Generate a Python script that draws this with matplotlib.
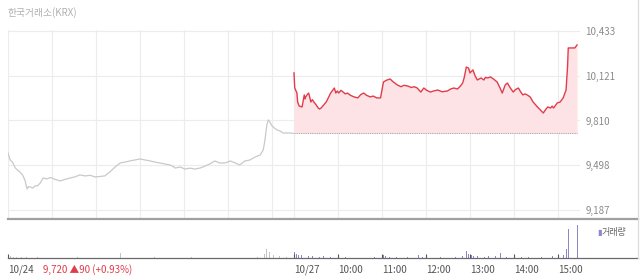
import matplotlib
matplotlib.use("Agg")
import matplotlib.pyplot as plt
from matplotlib.lines import Line2D

plt.rcParams['font.family'] = ['Noto Sans CJK KR', 'DejaVu Sans']

# ---- data -----------------------------------------------------------
# minutes from 10/24 09:00 (10/27 09:00 = 390 on the compressed axis)
prev_t = [0, 3, 6, 10, 13, 16, 20, 23, 26, 28, 30, 34, 37, 40, 44, 48, 53, 57, 60, 64,
          67, 71, 78, 85, 91, 98, 105, 112, 119, 125, 132, 139, 146, 153, 160, 166,
          173, 180, 187, 194, 200, 207, 214, 221, 225, 228, 235, 241, 248, 255, 262,
          269, 275, 282, 289, 296, 303, 310, 316, 323, 330, 337, 344, 348, 350, 353,
          355, 357, 360, 363, 367, 371, 375, 380, 385, 389]
prev_v = [9584, 9535, 9520, 9479, 9465, 9452, 9430, 9396, 9333, 9350, 9347, 9340, 9356,
          9354, 9375, 9410, 9403, 9412, 9410, 9400, 9396, 9389, 9400, 9410, 9417, 9431,
          9424, 9428, 9417, 9420, 9424, 9452, 9486, 9514, 9521, 9528, 9535, 9542, 9535,
          9528, 9521, 9514, 9507, 9500, 9490, 9479, 9486, 9472, 9478, 9472, 9479, 9493,
          9507, 9528, 9514, 9514, 9528, 9514, 9500, 9528, 9535, 9556, 9570, 9605, 9660,
          9779, 9814, 9800, 9772, 9758, 9744, 9737, 9723, 9723, 9723, 9720]

today_t = [390, 391, 394, 395, 397, 401, 403, 404, 405, 406, 408, 410, 412, 413, 415,
           417, 420, 423, 425, 427, 430, 434, 437, 440, 445, 447, 449, 451, 454, 457,
           460, 463, 467, 472, 477, 481, 485, 489, 494, 498, 503, 508, 512, 516, 521,
           525, 531, 536, 540, 545, 550, 554, 558, 563, 567, 571, 576, 580, 586, 592,
           599, 604, 608, 613, 617, 620, 622, 625, 628, 630, 634, 637, 640, 645, 649,
           651, 654, 658, 662, 667, 671, 674, 678, 681, 685, 689, 692, 696, 699, 702,
           705, 708, 712, 716, 722, 726, 730, 733, 736, 740, 742, 744, 749, 753, 757,
           761, 763, 764, 769, 773, 776]
today_v = [10141, 10036, 10001, 9939, 9911, 9904, 9960, 9988, 9960, 9974, 9990, 10001,
           9960, 9939, 9955, 9939, 9920, 9897, 9890, 9897, 9915, 9939, 9970, 10001, 10036,
           10001, 10015, 10001, 10020, 10008, 9995, 10001, 9985, 9974, 9967, 9990, 10001,
           9985, 9974, 9980, 9967, 9967, 10078, 10090, 10099, 10080, 10057, 10045, 10055,
           10050, 10040, 10045, 10036, 10008, 10036, 10020, 10008, 10015, 10022, 10010,
           10015, 10030, 10036, 10029, 10050, 10071, 10106, 10182, 10175, 10141, 10162,
           10120, 10092, 10106, 10092, 10110, 10106, 10113, 10099, 10078, 10036, 10001,
           10057, 10071, 10036, 10008, 10025, 10036, 10010, 9988, 9995, 9988, 9974, 9939,
           9904, 9883, 9862, 9885, 9904, 9897, 9910, 9897, 9932, 9939, 9967, 10022, 10182,
           10315, 10315, 10315, 10336]

prev_close = 9720

vol_prev_t = [1, 4, 8, 12, 18, 25, 40, 60, 95, 153, 200, 250, 300, 340, 350, 353, 357, 362, 370, 380]
vol_prev_v = [1.5, 2, 1, 1.5, 1, 1, 1, 0.8, 0.8, 5, 0.8, 0.8, 0.8, 1.5, 4, 9, 6, 3, 2, 1.5]

vol_today_t = [390, 391, 393, 396, 400, 405, 410, 415, 420, 425, 430, 435, 440, 450, 460,
               480, 500, 512, 515, 520, 530, 545, 560, 565, 570, 590, 600, 610, 620, 625,
               628, 632, 635, 640, 645, 650, 655, 660, 665, 671, 680, 700, 710, 720, 728,
               735, 742, 750, 758, 761, 764, 776]
vol_today_v = [15, 6, 4, 3, 3, 2.5, 2, 2, 2, 1.5, 2.5, 1.5, 1.5, 1, 1, 1.5, 1, 3, 2, 1.5,
               1.5, 1.5, 3, 1.5, 1.5, 1.5, 1, 1.5, 2, 7, 4, 3, 2.5, 2, 2, 1.5, 2, 1.5, 2,
               5, 1.5, 1.5, 1, 2, 1.5, 1.5, 2, 2, 3, 9, 29, 33]

y_ticks = [9187, 9498, 9810, 10121, 10433]
x_ticks = [0, 390, 450, 510, 570, 630, 690, 750]
x_labels = ['10/24', '10/27', '10:00', '11:00', '12:00', '13:00', '14:00', '15:00']
vgrid = [0, 60, 120, 180, 240, 300, 360, 390, 450, 510, 570, 630, 690, 750]

title = '한국거래소(KRX)'
prev_info = '9,720 ▲90 (+0.93%)'
legend_text = '거래량'

# ---- figure ---------------------------------------------------------
W, H = 640, 278
fig = plt.figure(figsize=(W / 100, H / 100), dpi=100)

def fx(px):
    return px / W

def fy(py):
    return 1 - py / H

L, R = 8, 580
ax = fig.add_axes([fx(L), fy(218), fx(R - L), (218 - 30) / H])
ax.set_xlim(0, 780)
ax.set_ylim(9131, 10440)
for s in ax.spines.values():
    s.set_visible(False)

grid_c = '#ececec'
for t in vgrid:
    ax.axvline(t, color=grid_c, lw=0.8, zorder=0)
for v in y_ticks:
    ax.axhline(v, color=grid_c, lw=0.8, zorder=0)

ax.plot(prev_t, prev_v, color='#c9c9c9', lw=0.9, zorder=2)
ax.fill_between(today_t, today_v, prev_close, color='#fde3e6', lw=0, zorder=1)
ax.plot([today_t[0], today_t[-1]], [prev_close, prev_close], color='#aaaaaa',
        lw=0.8, ls=(0, (1, 1)), zorder=2)
ax.plot(today_t, today_v, color='#e23b4a', lw=1.0, zorder=3)

ax.yaxis.tick_right()
ax.set_yticks(y_ticks)
ax.set_yticklabels([f'{v:,}' for v in y_ticks])
ax.tick_params(axis='y', length=0, pad=4, labelsize=7, labelcolor='#8a8a8a')
ax.set_xticks([])

# volume panel
axv = fig.add_axes([fx(L), fy(258), fx(R - L), 36 / H])
axv.set_xlim(0, 780)
axv.set_ylim(0, 36)
for s in axv.spines.values():
    s.set_visible(False)
axv.bar(vol_prev_t, vol_prev_v, width=1.2, color='#c4c4c4', lw=0)
axv.bar(vol_today_t, vol_today_v, width=1.2, color='#8b87c8', lw=0)
axv.set_yticks([])
axv.set_xticks(x_ticks)
axv.set_xticklabels(x_labels)
axv.tick_params(axis='x', direction='in', length=3, width=0.8, color='#555555',
                pad=5, labelsize=7, labelcolor='#555555')
for lab in axv.get_xticklabels():
    lab.set_horizontalalignment('left')

# frame lines
fig.add_artist(Line2D([fx(8), fx(638)], [fy(218.5), fy(218.5)], color='#a0a0a0', lw=1.6))
fig.add_artist(Line2D([fx(8), fx(638)], [fy(258), fy(258)], color='#6a6a6a', lw=0.9))
fig.add_artist(Line2D([fx(638), fx(638)], [fy(0), fy(258)], color='#dcdcdc', lw=0.9))

fig.text(fx(8), fy(13), title, fontsize=7, color='#b0b0b0', va='center', ha='left')
fig.text(fx(43), fy(270), prev_info, fontsize=7, color='#e23b4a', va='center', ha='left')
fig.text(fx(597), fy(232), '▮', fontsize=6, color='#8b87c8', va='center', ha='left',
         family=['DejaVu Sans'])
fig.text(fx(602), fy(232), legend_text, fontsize=6.5, color='#666666', va='center', ha='left')

fig.savefig('out.png', dpi=100, facecolor='white')
